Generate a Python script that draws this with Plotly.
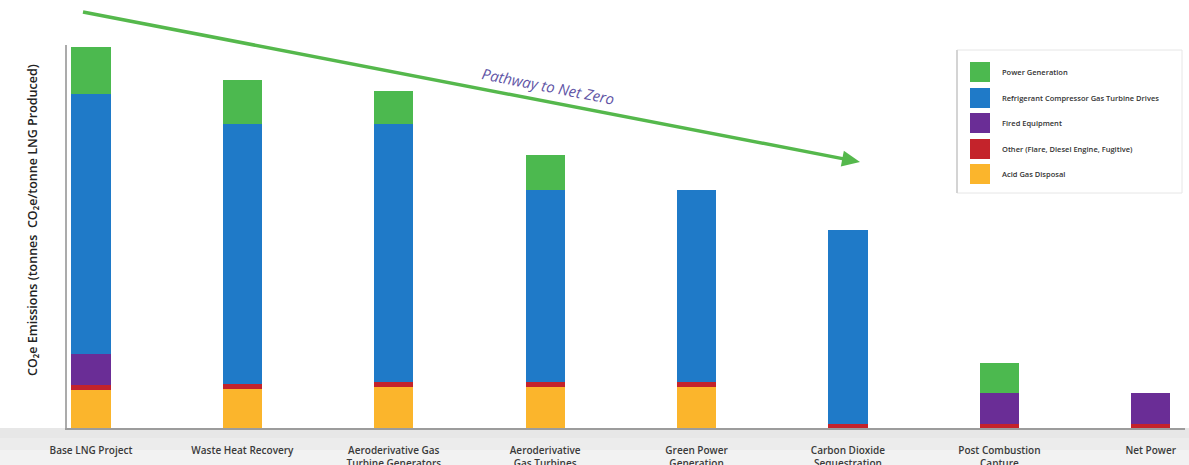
import plotly.graph_objects as go

# Emission pathway categories (x axis)
categories = [
    "Base LNG Project",
    "Waste Heat Recovery",
    "Aeroderivative Gas<br>Turbine Generators",
    "Aeroderivative<br>Gas Turbines",
    "Green Power<br>Generation",
    "Carbon Dioxide<br>Sequestration",
    "Post Combustion<br>Capture",
    "Net Power",
]

# Stacked emission sources, tonnes CO2e / tonne LNG (bottom to top)
acid_gas_disposal = [0.038, 0.039, 0.041, 0.041, 0.041, 0.000, 0.000, 0.000]
other_sources = [0.005, 0.005, 0.005, 0.005, 0.005, 0.004, 0.004, 0.004]
fired_equipment = [0.031, 0.000, 0.000, 0.000, 0.000, 0.000, 0.031, 0.031]
refrigerant_drives = [0.260, 0.260, 0.258, 0.192, 0.192, 0.194, 0.000, 0.000]
power_generation = [0.047, 0.044, 0.033, 0.035, 0.000, 0.000, 0.030, 0.000]

# legend order (top to bottom) with colours
series_names = [
    "Power Generation",
    "Refrigerant Compressor Gas Turbine Drives",
    "Fired Equipment",
    "Other (Flare, Diesel Engine, Fugitive)",
    "Acid Gas Disposal",
]
series_values = [power_generation, refrigerant_drives, fired_equipment,
                 other_sources, acid_gas_disposal]
series_colors = ["#4cb94f", "#1f7ac8", "#6a2d96", "#c4232b", "#fbb52c"]

positions = list(range(len(categories)))

fig = go.Figure()
# bottom segment first so the stack builds upward
for name, vals, color in reversed(list(zip(series_names, series_values, series_colors))):
    fig.add_trace(go.Bar(
        x=positions, y=vals, name=name,
        marker=dict(color=color, line=dict(width=0)),
        width=0.258,
        showlegend=False,
        hoverinfo="name+y",
    ))

W, H = 1189, 465
L, R, T, B = 67, 4, 45, 37
pw, ph = W - L - R, H - T - B


def px_x(p):
    """pixel column -> paper x"""
    return (p - L) / pw


def px_y(p):
    """pixel row -> paper y"""
    return (H - B - p) / ph


fig.update_layout(
    width=W, height=H,
    margin=dict(l=L, r=R, t=T, b=B, autoexpand=False),
    barmode="stack",
    paper_bgcolor="white",
    plot_bgcolor="white",
    font=dict(family="Open Sans, sans-serif", color="#333333"),
    showlegend=False,
)

fig.update_xaxes(
    range=[-0.1585, 7.226],
    tickmode="array", tickvals=positions, ticktext=categories,
    showline=True, linecolor="#9c9c9c", linewidth=2,
    ticks="", showgrid=False, zeroline=False,
    tickfont=dict(size=10, color="#3a3a3a", weight=600),
    ticklabelstandoff=12,
    automargin=False,
)
fig.update_yaxes(
    range=[0, 0.383],
    showline=True, linecolor="#ababab", linewidth=1.5,
    ticks="", showgrid=False, zeroline=False, showticklabels=False,
    automargin=False,
)

# light grey band beneath the baseline
band = [("#e7e7e7", 0, 10), ("#ececec", 10, 22), ("#f2f2f2", 22, 37)]
for color, d0, d1 in band:
    fig.add_shape(
        type="rect", xref="paper", yref="paper",
        x0=px_x(0), x1=px_x(W), y0=-d1 / ph, y1=-d0 / ph,
        fillcolor=color, line=dict(width=0), layer="below",
    )

# y axis title
fig.add_annotation(
    xref="paper", yref="paper",
    x=px_x(33), y=px_y(220),
    text="CO₂e Emissions (tonnes  CO₂e/tonne LNG Produced)",
    textangle=-90, showarrow=False,
    font=dict(size=12.5, color="#222222", weight=600),
    xanchor="center", yanchor="middle",
)

# pathway arrow: shaft plus filled head
tail = (83, 12)
tip = (860, 162)
dx, dy = tip[0] - tail[0], tip[1] - tail[1]
length = (dx * dx + dy * dy) ** 0.5
ux, uy = dx / length, dy / length
nx, ny = -uy, ux
head_len, head_half = 18, 8
bx, by = tip[0] - head_len * ux, tip[1] - head_len * uy
shaft_end = (tip[0] - (head_len - 4) * ux, tip[1] - (head_len - 4) * uy)
arrow_color = "#55b84c"
fig.add_shape(
    type="line", xref="paper", yref="paper",
    x0=px_x(tail[0]), y0=px_y(tail[1]),
    x1=px_x(shaft_end[0]), y1=px_y(shaft_end[1]),
    line=dict(color=arrow_color, width=3.5),
)
c1 = (bx + head_half * nx, by + head_half * ny)
c2 = (bx - head_half * nx, by - head_half * ny)
fig.add_shape(
    type="path", xref="paper", yref="paper",
    path="M {:.5f},{:.5f} L {:.5f},{:.5f} L {:.5f},{:.5f} Z".format(
        px_x(tip[0]), px_y(tip[1]), px_x(c1[0]), px_y(c1[1]),
        px_x(c2[0]), px_y(c2[1])),
    fillcolor=arrow_color, line=dict(width=0),
)
fig.add_annotation(
    xref="paper", yref="paper",
    x=px_x(548), y=px_y(86),
    text="<i>Pathway to Net Zero</i>",
    textangle=11, showarrow=False,
    font=dict(size=15, color="#5f55a6"),
    xanchor="center", yanchor="middle",
)

# legend panel with swatches
box = (957, 50, 1182, 193)
fig.add_shape(
    type="rect", xref="paper", yref="paper",
    x0=px_x(box[0]), x1=px_x(box[2]), y0=px_y(box[3]), y1=px_y(box[1]),
    fillcolor="white", line=dict(color="#e6e6e6", width=1),
)
fig.add_shape(
    type="line", xref="paper", yref="paper",
    x0=px_x(box[0]), x1=px_x(box[0]), y0=px_y(box[3]), y1=px_y(box[1]),
    line=dict(color="#d4d4d4", width=2),
)
row_y = [72, 98, 123, 149, 174]
for name, color, cy in zip(series_names, series_colors, row_y):
    fig.add_shape(
        type="rect", xref="paper", yref="paper",
        x0=px_x(970), x1=px_x(990), y0=px_y(cy + 10), y1=px_y(cy - 10),
        fillcolor=color, line=dict(width=0),
    )
    fig.add_annotation(
        xref="paper", yref="paper",
        x=px_x(1000), y=px_y(cy),
        text=name, showarrow=False,
        font=dict(size=7.5, color="#333333", weight=600),
        xanchor="left", yanchor="middle",
    )

fig.write_html("out.html")
